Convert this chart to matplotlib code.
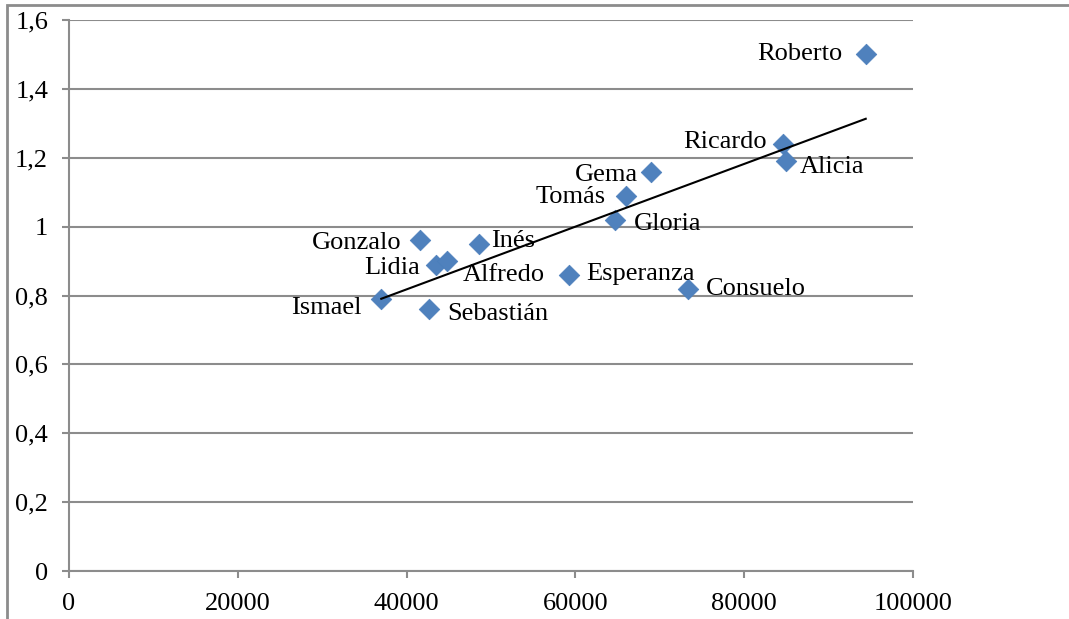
import numpy as np
import matplotlib
matplotlib.use("Agg")
import matplotlib.pyplot as plt
from matplotlib.patches import Rectangle
from matplotlib.ticker import FuncFormatter

plt.rcParams['font.family'] = ['Liberation Serif', 'DejaVu Serif']

names = ["Roberto", "Ricardo", "Alicia", "Gema", "Tomás", "Gloria", "Gonzalo",
         "Inés", "Lidia", "Alfredo", "Esperanza", "Consuelo", "Ismael", "Sebastián"]
income = [94400, 84600, 84950, 68950, 66000, 64700, 41600,
          48600, 43500, 44800, 59250, 73350, 37000, 42650]
ratio = [1.50, 1.24, 1.19, 1.16, 1.09, 1.02, 0.96,
         0.95, 0.89, 0.90, 0.86, 0.82, 0.79, 0.76]

# label placement (pixel offsets from each point, horizontal alignment)
label_pos = {
    "Roberto": (-23, 0, "right"), "Ricardo": (-16, 2, "right"),
    "Alicia": (14, -6, "left"), "Gema": (-13, -3, "right"),
    "Tomás": (-20, -1, "right"), "Gloria": (19, -4, "left"),
    "Gonzalo": (-19, -3, "right"), "Inés": (12, 3, "left"),
    "Lidia": (-16, -3, "right"), "Alfredo": (16, -14, "left"),
    "Esperanza": (17, 1, "left"), "Consuelo": (18, 0, "left"),
    "Ismael": (-20, -9, "right"), "Sebastián": (18, -5, "left"),
}

fig = plt.figure(figsize=(10.69, 6.19), dpi=100)
ax = fig.add_axes([69 / 1069, 48 / 619, 844 / 1069, 551 / 619])

grey = "#8c8c8c"
fs = 19
ax.set_xlim(0, 100000)
ax.set_ylim(0, 1.6)
ax.set_xticks(np.arange(0, 100001, 20000))
ax.set_yticks(np.arange(0, 1.61, 0.2))
ax.yaxis.set_major_formatter(FuncFormatter(lambda v, p: f"{round(v, 1):g}".replace(".", ",")))
ax.xaxis.set_major_formatter(FuncFormatter(lambda v, p: f"{int(v)}"))
ax.grid(axis="y", color=grey, linewidth=1.5)
ax.set_axisbelow(True)
for s in ("top", "right"):
    ax.spines[s].set_visible(False)
for s in ("left", "bottom"):
    ax.spines[s].set_color(grey)
    ax.spines[s].set_linewidth(1.5)
ax.tick_params(axis="y", length=5, width=1.5, color=grey, pad=10, labelsize=fs)
ax.tick_params(axis="x", length=5, width=1.5, color=grey, pad=11, labelsize=fs)

ax.scatter(income, ratio, marker="D", s=110, color="#4f81bd",
           edgecolor="#4a7ebb", linewidth=0.5, zorder=3, clip_on=False)

# linear trend
coef = np.polyfit(income, ratio, 1)
xs = np.array([min(income), max(income)])
ax.plot(xs, np.polyval(coef, xs), color="black", linewidth=1.5, zorder=4)

for n, x, y in zip(names, income, ratio):
    dx, dy, ha = label_pos[n]
    ax.annotate(n, (x, y), xytext=(dx, dy), textcoords="offset pixels",
                ha=ha, va="center", fontsize=fs, zorder=5)

fig.patches.append(Rectangle((7 / 1069, -0.1), 1.2, (619 - 5) / 619 + 0.1,
                             transform=fig.transFigure, fill=False,
                             edgecolor=grey, linewidth=2, figure=fig))

fig.savefig("out.png", dpi=100)
